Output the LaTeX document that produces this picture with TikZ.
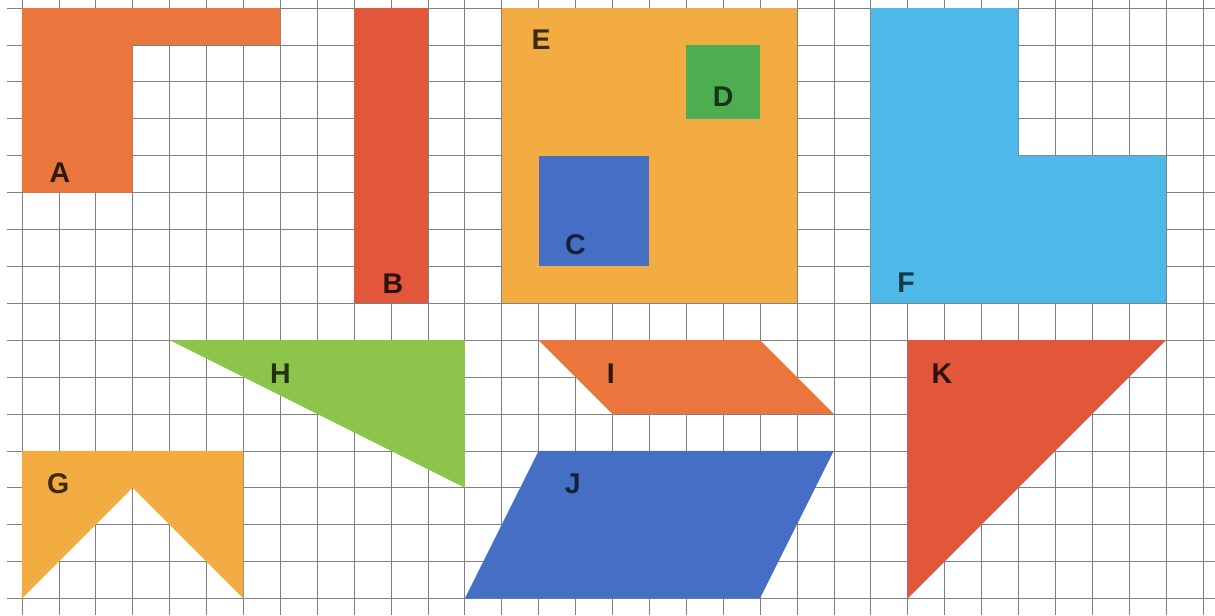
\documentclass[tikz,border=0pt]{standalone}
\usepackage{fontspec}
\setmainfont{Liberation Sans}

\definecolor{orangeA}{RGB}{234,118,62}
\definecolor{redB}{RGB}{226,86,60}
\definecolor{blueC}{RGB}{68,111,196}
\definecolor{greenD}{RGB}{76,174,80}
\definecolor{yellowE}{RGB}{242,172,66}
\definecolor{blueF}{RGB}{78,184,232}
\definecolor{greenH}{RGB}{141,196,76}

\begin{document}
\begin{tikzpicture}[x=1cm,y=-1cm]

\useasboundingbox (-0.596,-0.217) rectangle (32.33,16.45);

% Draw the squared paper
\tikzstyle{gridline}=[black!50,line width=0.5pt];
\foreach \x in {0,...,32}
  \draw[gridline] (\x,-0.217) -- (\x,16.45);
\foreach \y in {0,...,16}
  \draw[gridline] (-0.4,\y) -- (32.33,\y);

% Upper row of shapes
\fill[orangeA] (0,0) -- (7,0) -- (7,1) -- (3,1) -- (3,5) -- (0,5) -- cycle;
\fill[redB] (9,0) rectangle (11,8);
\fill[yellowE] (13,0) rectangle (21,8);
\fill[greenD] (18,1) rectangle (20,3);
\fill[blueC] (14,4) rectangle (17,7);
\fill[blueF] (23,0) -- (27,0) -- (27,4) -- (31,4) -- (31,8) -- (23,8) -- cycle;

% Lower row of shapes
\fill[greenH] (4,9) -- (12,9) -- (12,13) -- cycle;
\fill[yellowE] (0,12) -- (6,12) -- (6,16) -- (3,13) -- (0,16) -- cycle;
\fill[orangeA] (14,9) -- (20,9) -- (22,11) -- (16,11) -- cycle;
\fill[blueC] (14,12) -- (22,12) -- (20,16) -- (12,16) -- cycle;
\fill[redB] (24,9) -- (31,9) -- (24,16) -- cycle;

% Letters on the shapes
\tikzstyle{every node}=[inner sep=0pt,font=\bfseries\fontsize{22}{22}\selectfont];
\node[text=orangeA!20!black] (labA) at (1.03,4.47) {A};
\node[text=redB!20!black] (labB) at (10.05,7.48) {B};
\node[text=blueC!30!black] (labC) at (15.0,6.42) {C};
\node[text=greenD!30!black] (labD) at (19.0,2.4) {D};
\node[text=yellowE!25!black] (labE) at (14.07,0.87) {E};
\node[text=blueF!30!black] (labF) at (23.96,7.45) {F};
\node[text=yellowE!25!black] (labG) at (0.98,12.9) {G};
\node[text=greenH!25!black] (labH) at (7.0,9.9) {H};
\node[text=orangeA!20!black] (labI) at (15.96,9.9) {I};
\node[text=blueC!30!black] (labJ) at (14.93,12.9) {J};
\node[text=redB!20!black] (labK) at (24.93,9.9) {K};

\end{tikzpicture}
\end{document}
